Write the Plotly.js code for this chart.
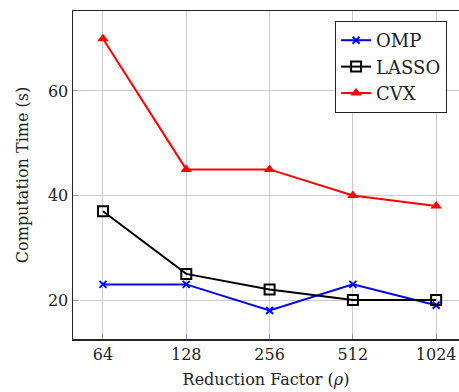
<!DOCTYPE html>
<html>
<head>
<script src="https://cdn.plot.ly/plotly-3.0.1.min.js"></script>
<style>html,body{margin:0;padding:0;background:#fff;}</style>
</head>
<body>
<div id="chart" style="width:459px;height:392px;"></div>
<script>
const categories = ['64', '128', '256', '512', '1024'];
const ompValues = [23, 23, 18, 23, 19];
const lassoValues = [37, 25, 22, 20, 20];
const cvxValues = [70, 45, 45, 40, 38];
const yTicks = [20, 40, 60];

const font = {family: 'DejaVu Serif', size: 16, color: '#222'};
const legendFont = {family: 'DejaVu Serif', size: 18, color: '#222'};

const traces = [
  {x: categories, y: ompValues, name: 'OMP', type: 'scatter', mode: 'lines+markers',
   line: {color: '#0000ff', width: 2}, marker: {symbol: 'x-thin', size: 7, color: '#0000ff', line: {color: '#0000ff', width: 2}}},
  {x: categories, y: lassoValues, name: 'LASSO', type: 'scatter', mode: 'lines+markers',
   line: {color: '#000000', width: 2}, marker: {symbol: 'square-open', size: 10, color: '#000000', line: {color: '#000000', width: 2}}},
  {x: categories, y: cvxValues, name: 'CVX', type: 'scatter', mode: 'lines+markers',
   line: {color: '#ff0000', width: 2}, marker: {symbol: 'triangle-up', size: 10, color: '#ff0000'}}
];

const layout = {
  width: 459, height: 392,
  margin: {l: 73, r: 0, t: 11, b: 53},
  paper_bgcolor: '#fff', plot_bgcolor: '#fff',
  font: font,
  showlegend: true,
  xaxis: {
    type: 'category', range: [-0.36, 4.274],
    showgrid: true, gridcolor: '#cccccc', gridwidth: 1,
    showline: true, linecolor: '#222', linewidth: 1.5, mirror: true,
    ticks: 'inside', ticklen: 5, tickcolor: '#999',
    zeroline: false,
    tickfont: font,
    title: {text: 'Reduction Factor (<i>ρ</i>)', font: font, standoff: 11}
  },
  yaxis: {
    range: [12.55, 75.3], tickvals: yTicks,
    showgrid: true, gridcolor: '#cccccc', gridwidth: 1,
    showline: true, linecolor: '#222', linewidth: 1.5, mirror: false,
    ticks: 'inside', ticklen: 5, tickcolor: '#999',
    zeroline: false,
    tickfont: font,
    title: {text: 'Computation Time (s)', font: font, standoff: 15}
  },
  legend: {
    x: 0.679, y: 0.9695, xanchor: 'left', yanchor: 'top',
    bgcolor: '#fff', bordercolor: '#222', borderwidth: 1,
    font: legendFont, tracegroupgap: 0
  }
};

Plotly.newPlot('chart', traces, layout, {displayModeBar: false, staticPlot: true});
</script>
</body>
</html>
